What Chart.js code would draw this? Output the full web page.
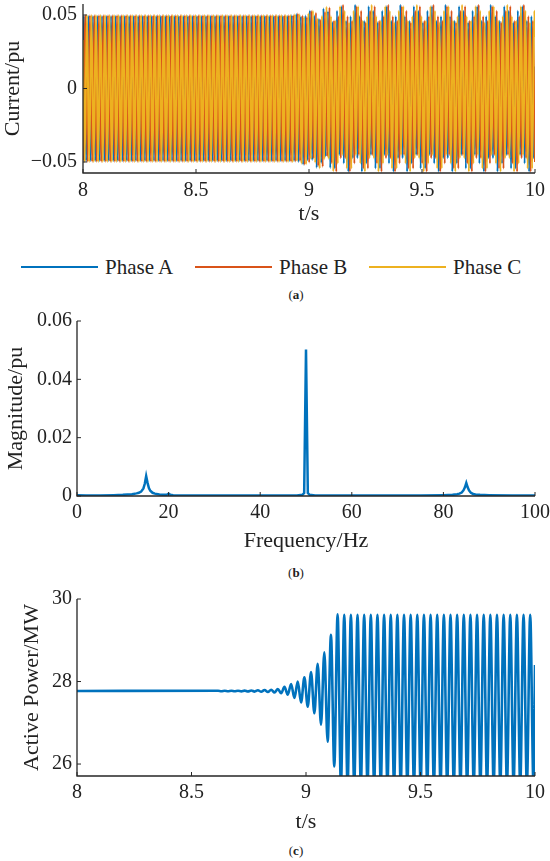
<!DOCTYPE html>
<html>
<head>
<meta charset="utf-8">
<script src="https://cdn.jsdelivr.net/npm/chart.js@4.4.0/dist/chart.umd.min.js"></script>
<style>
html,body{margin:0;padding:0;background:#fff;width:550px;height:861px;overflow:hidden;}
.box{position:absolute;left:0;width:550px;}
canvas{display:block;}
.cap{position:absolute;left:246px;width:100px;text-align:center;font-family:'Liberation Serif','Times New Roman','DejaVu Serif',serif;font-size:13px;line-height:15px;color:#222;}
#legend{position:absolute;left:21px;top:253px;height:28px;display:flex;font-family:'Liberation Serif','Times New Roman','DejaVu Serif',serif;font-size:21px;color:#222;}
.item{width:174px;display:flex;align-items:center;white-space:nowrap;}
.swatch{width:77px;height:2.5px;margin-right:7px;}
</style>
</head>
<body>
<div class="box" style="top:0;height:230px"><canvas id="cA" width="550" height="230"></canvas></div>
<div id="legend"></div>
<div class="cap" style="top:287px">(<b>a</b>)</div>
<div class="box" style="top:305px;height:255px"><canvas id="cB" width="550" height="255"></canvas></div>
<div class="cap" style="top:565px">(<b>b</b>)</div>
<div class="box" style="top:585px;height:255px"><canvas id="cC" width="550" height="255"></canvas></div>
<div class="cap" style="top:843px">(<b>c</b>)</div>
<script>
// ---------------- DATA ----------------
// (a) three-phase current: start/end values and successive half-cycle extremes (pu)
const phaseNames = ['Phase A', 'Phase B', 'Phase C'];
const phaseColors = ['#0072BD', '#D95319', '#EDB120'];
const currentTimeStart = 8, currentTimeEnd = 10;
const currentHalfCycle = 0.01;               // s between successive extremes (50 Hz)
const phaseFirstExtreme = [8.004, 8.01067, 8.00733];
const phaseStartValue = [0.015, -0.049, 0.033];
const phaseEndValue = [0.015, -0.05, 0.035];

const phaseAExtremes = [
0.0494,-0.0494,0.0494,-0.0494,0.0494,-0.0494,0.0494,-0.0494,0.0494,-0.0494,0.0494,-0.0494,0.0494,-0.0494,0.0494,-0.0494,0.0494,-0.0494,0.0494,-0.0494,
0.0494,-0.0494,0.0494,-0.0494,0.0494,-0.0494,0.0494,-0.0494,0.0494,-0.0494,0.0494,-0.0494,0.0494,-0.0494,0.0494,-0.0494,0.0494,-0.0494,0.0494,-0.0494,
0.0494,-0.0494,0.0494,-0.0494,0.0494,-0.0494,0.0494,-0.0494,0.0494,-0.0494,0.0494,-0.0494,0.0494,-0.0494,0.0494,-0.0494,0.0494,-0.0494,0.0494,-0.0494,
0.0494,-0.0494,0.0494,-0.0494,0.0494,-0.0494,0.0494,-0.0494,0.0494,-0.0494,0.0494,-0.0494,0.0494,-0.0494,0.0494,-0.0494,0.0494,-0.0494,0.0494,-0.0494,
0.0494,-0.0494,0.0494,-0.0494,0.0494,-0.0494,0.0494,-0.0494,0.0494,-0.0494,0.0494,-0.0494,
0.0498,-0.0493,0.0507,-0.0500,0.0490,-0.0518,0.0496,-0.0489,0.0531,-0.0487,0.0496,-0.0539,0.0475,-0.0507,0.0545,-0.0462,0.0525,-0.0541,0.0453,-0.0545,
0.0529,-0.0453,0.0559,-0.0510,0.0461,-0.0567,0.0491,-0.0475,
0.057,-0.0475,0.0491,-0.0567,0.0461,-0.051,0.0559,-0.0453,0.0529,-0.0545,0.045,-0.0545,0.0529,-0.0453,0.0559,-0.051,0.0461,-0.0567,0.0491,-0.0475,
0.057,-0.0475,0.0491,-0.0567,0.0461,-0.051,0.0559,-0.0453,0.0529,-0.0545,0.045,-0.0545,0.0529,-0.0453,0.0559,-0.051,0.0461,-0.0567,0.0491,-0.0475,
0.057,-0.0475,0.0491,-0.0567,0.0461,-0.051,0.0559,-0.0453,0.0529,-0.0545,0.045,-0.0545,0.0529,-0.0453,0.0559,-0.051,0.0461,-0.0567,0.0491,-0.0475,
0.057,-0.0475,0.0491,-0.0567,0.0461,-0.051,0.0559,-0.0453,0.0529,-0.0545,0.045,-0.0545,0.0529,-0.0453,0.0559,-0.051,0.0461,-0.0567,0.0491,-0.0475
];
const phaseBExtremes = [
0.0498,-0.0498,0.0498,-0.0498,0.0498,-0.0498,0.0498,-0.0498,0.0498,-0.0498,0.0498,-0.0498,0.0498,-0.0498,0.0498,-0.0498,0.0498,-0.0498,0.0498,-0.0498,
0.0498,-0.0498,0.0498,-0.0498,0.0498,-0.0498,0.0498,-0.0498,0.0498,-0.0498,0.0498,-0.0498,0.0498,-0.0498,0.0498,-0.0498,0.0498,-0.0498,0.0498,-0.0498,
0.0498,-0.0498,0.0498,-0.0498,0.0498,-0.0498,0.0498,-0.0498,0.0498,-0.0498,0.0498,-0.0498,0.0498,-0.0498,0.0498,-0.0498,0.0498,-0.0498,0.0498,-0.0498,
0.0498,-0.0498,0.0498,-0.0498,0.0498,-0.0498,0.0498,-0.0498,0.0498,-0.0498,0.0498,-0.0498,0.0498,-0.0498,0.0498,-0.0498,0.0498,-0.0498,0.0498,-0.0498,
0.0498,-0.0498,0.0498,-0.0498,0.0498,-0.0498,0.0498,-0.0498,0.0498,-0.0498,0.0498,-0.0498,
0.0499,-0.0497,0.0510,-0.0494,0.0497,-0.0519,0.0487,-0.0503,0.0527,-0.0477,0.0516,-0.0527,0.0468,-0.0532,0.0522,-0.0462,0.0551,-0.0509,0.0463,-0.0567,
0.0491,-0.0475,
0.057,-0.0475,0.0491,-0.0567,0.0461,-0.051,0.0559,-0.0453,0.0529,-0.0545,0.045,-0.0545,0.0529,-0.0453,0.0559,-0.051,0.0461,-0.0567,0.0491,-0.0475,
0.057,-0.0475,0.0491,-0.0567,0.0461,-0.051,0.0559,-0.0453,0.0529,-0.0545,0.045,-0.0545,0.0529,-0.0453,0.0559,-0.051,0.0461,-0.0567,0.0491,-0.0475,
0.057,-0.0475,0.0491,-0.0567,0.0461,-0.051,0.0559,-0.0453,0.0529,-0.0545,0.045,-0.0545,0.0529,-0.0453,0.0559,-0.051,0.0461,-0.0567,0.0491,-0.0475,
0.057,-0.0475,0.0491,-0.0567,0.0461,-0.051,0.0559,-0.0453,0.0529,-0.0545,0.045,-0.0545,0.0529,-0.0453,0.0559,-0.051,0.0461,-0.0567,0.0491,-0.0475,
0.057,-0.0475,0.0491,-0.0567,0.0461
];
const phaseCExtremes = [
-0.05,0.05,-0.05,0.05,-0.05,0.05,-0.05,0.05,-0.05,0.05,-0.05,0.05,-0.05,0.05,-0.05,0.05,-0.05,0.05,-0.05,0.05,
-0.05,0.05,-0.05,0.05,-0.05,0.05,-0.05,0.05,-0.05,0.05,-0.05,0.05,-0.05,0.05,-0.05,0.05,-0.05,0.05,-0.05,0.05,
-0.05,0.05,-0.05,0.05,-0.05,0.05,-0.05,0.05,-0.05,0.05,-0.05,0.05,-0.05,0.05,-0.05,0.05,-0.05,0.05,-0.05,0.05,
-0.05,0.05,-0.05,0.05,-0.05,0.05,-0.05,0.05,-0.05,0.05,-0.05,0.05,-0.05,0.05,-0.05,0.05,-0.05,0.05,-0.05,0.05,
-0.05,0.05,-0.05,0.05,-0.05,0.05,-0.05,0.05,-0.05,0.05,-0.05,0.05,
-0.0501,0.0506,-0.0493,0.0506,-0.0512,0.0485,-0.0516,0.0512,-0.0479,0.0530,-0.0506,0.0477,-0.0544,0.0494,-0.0482,0.0556,-0.0479,0.0492,-0.0564,0.0461,
-0.051,0.0559,-0.0453,0.0529,-0.0545,0.045,-0.0545,0.0529,-0.0453,0.0559,-0.051,0.0461,-0.0567,0.0491,-0.0475,
0.057,-0.0475,0.0491,-0.0567,0.0461,-0.051,0.0559,-0.0453,0.0529,-0.0545,0.045,-0.0545,0.0529,-0.0453,0.0559,-0.051,0.0461,-0.0567,0.0491,-0.0475,
0.057,-0.0475,0.0491,-0.0567,0.0461,-0.051,0.0559,-0.0453,0.0529,-0.0545,0.045,-0.0545,0.0529,-0.0453,0.0559,-0.051,0.0461,-0.0567,0.0491,-0.0475,
0.057,-0.0475,0.0491,-0.0567,0.0461,-0.051,0.0559,-0.0453,0.0529,-0.0545,0.045,-0.0545,0.0529,-0.0453,0.0559,-0.051,0.0461,-0.0567,0.0491,-0.0475,
0.057,-0.0475,0.0491,-0.0567,0.0461,-0.051,0.0559,-0.0453,0.0529,-0.0545,0.045,-0.0545,0.0529
];
const currentTicks = [-0.05, 0, 0.05];
const currentTickLabels = ['\u22120.05', '0', '0.05'];
const timeTicks = [8, 8.5, 9, 9.5, 10];
const timeTickLabels = ['8', '8.5', '9', '9.5', '10'];

// (b) FFT spectrum of phase A current
const fftFreq = [0,2,5,8,10,11,12,13,13.5,14,14.5,14.8,15.1,15.4,15.7,16,16.5,17,18,19,19.6,20,20.4,21,23,26,30,35,40,45,48,49.2,49.6,50,50.4,50.8,52,55,60,65,70,75,80,82,83,83.5,84,84.4,84.7,85,85.3,85.6,86,86.5,87,88,90,95,100];
const fftMag  = [0.0003,0.0002,0.0002,0.0003,0.0004,0.0005,0.0006,0.0009,0.0011,0.0015,0.0026,0.0042,0.0068,0.0045,0.0027,0.0018,0.0011,0.0008,0.0005,0.0004,0.0004,0.0008,0.0004,0.0003,0.0002,0.0002,0.0002,0.0002,0.0002,0.0002,0.0002,0.0004,0.001,0.0502,0.001,0.0004,0.0002,0.0002,0.0002,0.0002,0.0002,0.0002,0.0003,0.0004,0.0006,0.0008,0.0012,0.002,0.003,0.0045,0.003,0.0019,0.0011,0.0007,0.0005,0.0004,0.0003,0.0002,0.0002];
const freqTicks = [0, 20, 40, 60, 80, 100];
const freqTickLabels = ['0', '20', '40', '60', '80', '100'];
const magTicks = [0, 0.02, 0.04, 0.06];
const magTickLabels = ['0', '0.02', '0.04', '0.06'];

// (c) active power: steady value, then successive extremes of the oscillation (MW)
const powerSteady = 27.77;
const powerFirstExtreme = 8.616;
const powerHalfPeriod = 0.0145;
const powerEndValue = 28.4;
const powerExtremes = [
27.775,27.765,27.776,27.764,27.777,27.763,27.778,27.761,27.780,27.759,
27.783,27.756,27.787,27.752,27.793,27.745,27.802,27.735,27.82,27.715,
27.87,27.68,27.94,27.60,28.00,27.49,28.10,27.39,28.23,27.23,
28.43,26.95,28.71,26.54,29.13,25.94,29.63,25.5,29.62,25.5,
29.62,25.5,29.62,25.5,29.62,25.5,29.62,25.5,29.62,25.5,
29.62,25.5,29.62,25.5,29.62,25.5,29.62,25.5,29.62,25.5,
29.62,25.5,29.62,25.5,29.62,25.5,29.62,25.5,29.62,25.5,
29.62,25.5,29.62,25.5,29.62,25.5,29.62,25.5,29.62,25.5,
29.62,25.5,29.62,25.5,29.62,25.5,29.62,25.5,29.62,25.5,
29.62,25.5,29.62,25.5,29.62,25.5
];
const powerTicks = [26, 28, 30];
const powerTickLabels = ['26', '28', '30'];

// ---------------- HELPERS ----------------
const FONT = "'Liberation Serif', 'Times New Roman', 'DejaVu Serif', serif";
const TXT = '#222222';
const AXIS = '#262626';

function series(tStart, tFirst, step, startVal, extremes, tEnd, endVal) {
  const pts = [{x: tStart, y: startVal}];
  extremes.forEach((v, k) => pts.push({x: tFirst + step * k, y: v}));
  pts.push({x: tEnd, y: endVal});
  return pts;
}

const inwardAxes = {
  id: 'inwardAxes',
  afterDatasetsDraw(chart) {
    const {ctx, chartArea: a} = chart;
    const xs = chart.scales.x, ys = chart.scales.y;
    ctx.save();
    ctx.strokeStyle = AXIS;
    ctx.lineWidth = 1.3;
    ctx.beginPath();
    ctx.moveTo(a.left, a.top); ctx.lineTo(a.left, a.bottom); ctx.lineTo(a.right, a.bottom);
    ctx.stroke();
    ctx.lineWidth = 1;
    xs.ticks.forEach(t => {
      const p = xs.getPixelForValue(t.value);
      ctx.beginPath(); ctx.moveTo(p, a.bottom); ctx.lineTo(p, a.bottom - 4); ctx.stroke();
    });
    ys.ticks.forEach(t => {
      const p = ys.getPixelForValue(t.value);
      ctx.beginPath(); ctx.moveTo(a.left, p); ctx.lineTo(a.left + 4, p); ctx.stroke();
    });
    ctx.restore();
  }
};

function xAxis(min, max, ticks, labels, title, height, tickPad, titlePad) {
  return {
    type: 'linear', min, max,
    afterBuildTicks: s => { s.ticks = ticks.map(v => ({value: v})); },
    afterFit: s => { s.height = height; s.paddingLeft = 0; s.paddingRight = 0; },
    ticks: {padding: tickPad, color: TXT, maxRotation: 0, autoSkip: false,
      font: {family: FONT, size: 20},
      callback: v => labels[ticks.indexOf(v)]},
    grid: {display: false, drawTicks: false},
    border: {display: false},
    title: {display: true, text: title, color: TXT, font: {family: FONT, size: 22},
      padding: {top: 0, bottom: titlePad}}
  };
}
function yAxis(min, max, ticks, labels, title, width, tickPad, titlePad) {
  return {
    type: 'linear', min, max,
    afterBuildTicks: s => { s.ticks = ticks.map(v => ({value: v})); },
    afterFit: s => { s.width = width; s.paddingTop = 0; s.paddingBottom = 0; },
    ticks: {padding: tickPad, color: TXT, autoSkip: false,
      font: {family: FONT, size: 20},
      callback: v => labels[ticks.indexOf(v)]},
    grid: {display: false, drawTicks: false},
    border: {display: false},
    title: {display: true, text: title, color: TXT, font: {family: FONT, size: 22},
      padding: {top: titlePad, bottom: 0}}
  };
}
const common = {
  responsive: false, animation: false, events: [],
  plugins: {legend: {display: false}, tooltip: {enabled: false}},
  elements: {point: {radius: 0}}
};

// ---------------- (a) ----------------
const phaseExtremes = [phaseAExtremes, phaseBExtremes, phaseCExtremes];
new Chart(document.getElementById('cA'), {
  type: 'line',
  data: {
    datasets: phaseNames.map((name, i) => ({
      label: name,
      data: series(currentTimeStart, phaseFirstExtreme[i], currentHalfCycle, phaseStartValue[i],
                   phaseExtremes[i], currentTimeEnd, phaseEndValue[i]),
      borderColor: phaseColors[i], backgroundColor: phaseColors[i],
      borderWidth: 2, cubicInterpolationMode: 'monotone', order: 3 - i
    }))
  },
  options: Object.assign({}, common, {
    layout: {padding: {left: 0, right: 15, top: 4, bottom: 0}},
    scales: {
      x: xAxis(8, 10, timeTicks, timeTickLabels, 't/s', 57, 6, 3),
      y: yAxis(-0.0575, 0.0575, currentTicks, currentTickLabels, 'Current/pu', 83, 6, 0)
    }
  }),
  plugins: [inwardAxes]
});

// legend built from the series names/colours
const leg = document.getElementById('legend');
phaseNames.forEach((name, i) => {
  const it = document.createElement('div'); it.className = 'item';
  const sw = document.createElement('div'); sw.className = 'swatch'; sw.style.background = phaseColors[i];
  const tx = document.createElement('span'); tx.textContent = name;
  it.appendChild(sw); it.appendChild(tx); leg.appendChild(it);
});

// ---------------- (b) ----------------
new Chart(document.getElementById('cB'), {
  type: 'line',
  data: {
    datasets: [{
      label: 'Phase A spectrum',
      data: fftFreq.map((f, i) => ({x: f, y: fftMag[i]})),
      borderColor: phaseColors[0], borderWidth: 2.5, tension: 0
    }]
  },
  options: Object.assign({}, common, {
    layout: {padding: {left: 0, right: 15, top: 16, bottom: 0}},
    scales: {
      x: xAxis(0, 100, freqTicks, freqTickLabels, 'Frequency/Hz', 64, 4.5, 6),
      y: yAxis(0, 0.06, magTicks, magTickLabels, 'Magnitude/pu', 77, 5, 3)
    }
  }),
  plugins: [inwardAxes]
});

// ---------------- (c) ----------------
new Chart(document.getElementById('cC'), {
  type: 'line',
  data: {
    datasets: [{
      label: 'Active Power',
      data: series(currentTimeStart, powerFirstExtreme, powerHalfPeriod, powerSteady,
                   powerExtremes, currentTimeEnd, powerEndValue),
      borderColor: phaseColors[0], borderWidth: 2.6, cubicInterpolationMode: 'monotone'
    }]
  },
  options: Object.assign({}, common, {
    layout: {padding: {left: 0, right: 15, top: 14, bottom: 0}},
    scales: {
      x: xAxis(8, 10, timeTicks, timeTickLabels, 't/s', 64, 4.5, 5),
      y: yAxis(25.71, 30, powerTicks, powerTickLabels, 'Active Power/MW', 77, 5, 19.5)
    }
  }),
  plugins: [inwardAxes]
});
</script>
</body>
</html>
